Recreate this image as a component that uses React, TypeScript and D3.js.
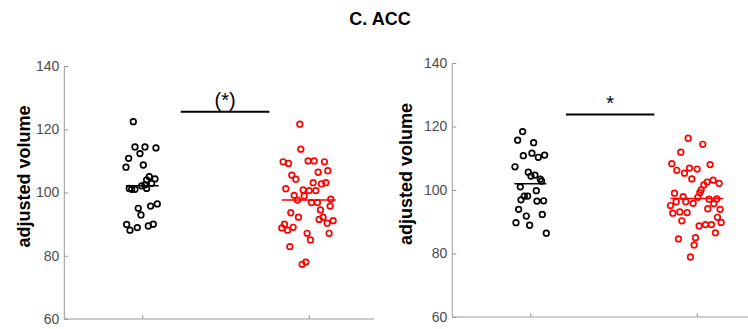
import React, { useEffect, useRef } from 'react';
import * as d3 from 'd3';

// group positions on the x axis (no tick labels are shown)
const groups = [1, 2];
const yTicks = [60, 80, 100, 120, 140];

// panel 1 (left)
const leftCtrl = [122.4, 114.4, 114.4, 114.1, 112.3, 110.8, 108.0, 108.7, 105.0, 104.3, 104.0, 102.9, 102.4, 101.3, 101.0, 101.0, 102.1, 101.3, 95.0, 92.9, 95.7, 96.4, 89.9, 88.1, 88.9, 89.4, 90.0];
const leftCtrlJitter = [-0.054, -0.044, 0.016, 0.082, -0.014, -0.082, -0.098, 0.006, 0.042, 0.076, 0.026, 0.056, 0.016, -0.078, -0.064, -0.044, -0.004, 0.026, -0.024, -0.008, 0.05, 0.09, -0.094, -0.074, -0.03, 0.036, 0.066];
const leftPat = [121.6, 113.7, 109.7, 109.2, 110.0, 110.0, 109.7, 105.5, 104.2, 106.4, 106.9, 101.2, 103.1, 102.7, 103.1, 100.8, 100.6, 100.6, 99.1, 97.6, 98.9, 96.8, 96.8, 97.9, 95.7, 94.5, 93.6, 92.2, 91.5, 92.2, 90.3, 91.1, 90.0, 88.8, 88.1, 89.0, 87.1, 85.0, 87.1, 82.9, 77.3, 78.0];
const leftPatJitter = [-0.054, -0.048, -0.154, -0.122, -0.004, 0.032, 0.094, -0.102, -0.078, 0.056, 0.114, -0.138, 0.026, 0.076, 0.102, -0.034, 0.002, 0.042, -0.088, -0.068, -0.028, 0.016, 0.052, 0.132, 0.128, 0.07, -0.108, -0.062, 0.062, 0.086, 0.11, 0.146, -0.146, -0.162, -0.128, -0.094, -0.01, 0.01, 0.122, -0.114, -0.04, -0.018];
const leftSig = { x1: 1.231, x2: 1.763, y: 125.5, label: '(*)' };

// panel 2 (right)
const rightCtrl = [118.4, 115.7, 114.9, 110.8, 111.6, 110.3, 111.0, 107.3, 105.6, 104.4, 104.7, 103.4, 102.8, 101.0, 99.8, 98.1, 98.1, 96.9, 96.5, 96.6, 93.9, 91.8, 92.3, 89.7, 88.9, 86.4];
const rightCtrlJitter = [-0.046, -0.076, 0.02, -0.042, 0.01, 0.048, 0.086, -0.092, -0.012, 0.004, 0.028, 0.06, 0.068, -0.06, 0.036, -0.036, -0.016, -0.056, 0.04, 0.08, -0.07, -0.024, 0.072, -0.086, -0.004, 0.096];
const rightPat = [116.3, 114.4, 111.9, 108.3, 108.0, 106.2, 106.9, 106.6, 105.3, 103.5, 100.0, 101.6, 102.5, 103.1, 102.1, 99.2, 99.0, 97.9, 97.7, 96.3, 96.3, 95.8, 97.1, 97.2, 95.1, 95.7, 94.1, 93.9, 92.7, 93.1, 92.9, 91.4, 90.3, 89.8, 88.7, 89.1, 89.1, 86.5, 84.6, 85.0, 82.7, 78.9];
const rightPatJitter = [-0.052, 0.036, -0.096, -0.15, 0.08, -0.12, -0.044, 0.002, -0.074, -0.03, 0.026, 0.042, 0.062, 0.098, 0.134, 0.018, -0.134, -0.082, 0.006, -0.124, -0.066, -0.022, 0.074, 0.12, -0.158, 0.102, 0.066, 0.14, -0.144, -0.102, -0.058, 0.124, -0.09, 0.146, 0.014, 0.052, 0.088, 0.112, -0.11, -0.008, -0.016, -0.038];
const rightSig = { x1: 1.214, x2: 1.745, y: 123.8, label: '*' };

const colors = ['#000000', '#ff0000'];

const panels = [
  { left: 64.3, top: 66, bottom: 319, labelX: 30, labelY: 176.5, sig: leftSig,
    series: [{ v: leftCtrl, j: leftCtrlJitter }, { v: leftPat, j: leftPatJitter }] },
  { left: 452.3, top: 63, bottom: 317, labelX: 412, labelY: 174, sig: rightSig,
    series: [{ v: rightCtrl, j: rightCtrlJitter }, { v: rightPat, j: rightPatJitter }] },
];

const W = 748;
const H = 329;
const axisW = 310;

const App = () => {
  const ref = useRef<SVGSVGElement>(null);

  useEffect(() => {
    const svg = d3.select(ref.current);
    svg.selectAll('*').remove();

    svg.append('text')
      .attr('x', 380)
      .attr('y', 25)
      .attr('text-anchor', 'middle')
      .attr('font-family', 'Liberation Sans, Arial, sans-serif')
      .attr('font-weight', 'bold')
      .attr('font-size', 18)
      .text('C. ACC');

    panels.forEach(p => {
      const x = d3.scaleLinear()
        .domain([1 - 78 / 166.5, 1 + (axisW - 78) / 166.5])
        .range([p.left, p.left + axisW]);
      const y = d3.scaleLinear().domain([60, 140]).range([p.bottom, p.top]);

      const g = svg.append('g');

      // y axis
      const yAxis = d3.axisLeft(y).tickValues(yTicks).tickSize(-4).tickPadding(5);
      const ya = g.append('g').attr('transform', `translate(${p.left},0)`).call(yAxis);
      ya.select('.domain').attr('stroke', '#9a9a9a').attr('d', `M0,${p.top}V${p.bottom}`);
      ya.selectAll('.tick line').attr('stroke', '#9a9a9a');
      ya.selectAll('.tick text')
        .attr('fill', '#4d4d4d')
        .attr('font-size', 14)
        .attr('font-family', 'Liberation Sans, Arial, sans-serif');

      // x axis
      const xAxis = d3.axisBottom(x).tickValues(groups).tickSize(-4).tickFormat(() => '');
      const xa = g.append('g').attr('transform', `translate(0,${p.bottom})`).call(xAxis);
      xa.select('.domain').attr('stroke', '#9a9a9a').attr('d', `M${p.left},0H${p.left + axisW}`);
      xa.selectAll('.tick line').attr('stroke', '#9a9a9a');

      // y label
      g.append('text')
        .attr('transform', `translate(${p.labelX},${p.labelY}) rotate(-90)`)
        .attr('text-anchor', 'middle')
        .attr('font-family', 'Liberation Sans, Arial, sans-serif')
        .attr('font-weight', 'bold')
        .attr('font-size', 18)
        .text('adjusted volume');

      // points and mean lines
      p.series.forEach((s, i) => {
        const gx = groups[i];
        g.append('g').selectAll('circle')
          .data(s.v)
          .enter()
          .append('circle')
          .attr('cx', (d, k) => x(gx + s.j[k]))
          .attr('cy', d => y(d))
          .attr('r', 2.8)
          .attr('fill', 'none')
          .attr('stroke', colors[i])
          .attr('stroke-width', 1.7);

        const m = d3.mean(s.v) as number;
        const half = d3.max(s.j, d => Math.abs(d)) as number;
        g.append('line')
          .attr('x1', x(gx - half))
          .attr('x2', x(gx + half))
          .attr('y1', y(m))
          .attr('y2', y(m))
          .attr('stroke', colors[i])
          .attr('stroke-width', 1.5);
      });

      // significance bar
      g.append('line')
        .attr('x1', x(p.sig.x1))
        .attr('x2', x(p.sig.x2))
        .attr('y1', y(p.sig.y))
        .attr('y2', y(p.sig.y))
        .attr('stroke', '#000')
        .attr('stroke-width', 2);
      g.append('text')
        .attr('x', x((p.sig.x1 + p.sig.x2) / 2))
        .attr('y', y(p.sig.y) - 4.5)
        .attr('text-anchor', 'middle')
        .attr('font-family', 'Liberation Sans, Arial, sans-serif')
        .attr('font-size', 20)
        .text(p.sig.label);
    });
  }, []);

  return (
    <svg ref={ref} width={W} height={H}
      style={{ position: 'absolute', left: 0, top: 0, background: '#fff' }} />
  );
};

export default App;
